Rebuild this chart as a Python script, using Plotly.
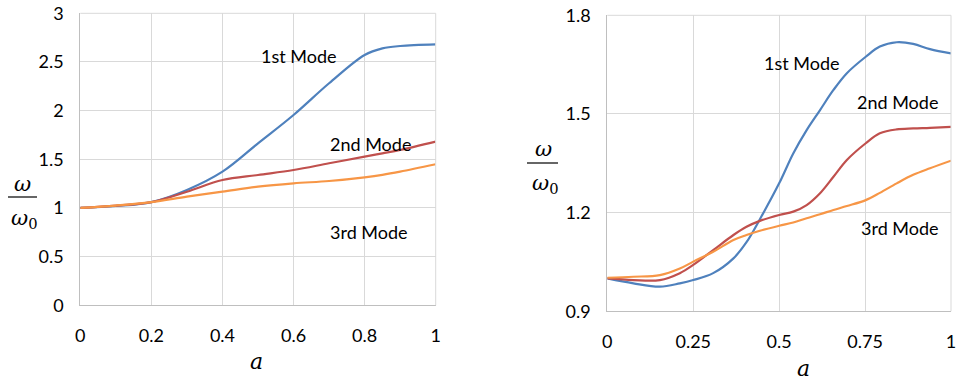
import plotly.graph_objects as go

# Left panel: frequency ratio vs a (range 0..1)
a_left = [0.0, 0.1, 0.2, 0.3, 0.4, 0.5, 0.6, 0.7, 0.8, 0.85, 0.9, 1.0]
left_mode1 = [1.00, 1.02, 1.06, 1.185, 1.373, 1.664, 1.955, 2.281, 2.572, 2.64, 2.664, 2.68]
left_mode2 = [1.00, 1.025, 1.06, 1.167, 1.287, 1.339, 1.39, 1.459, 1.527, 1.561, 1.596, 1.681]
left_mode3 = [1.00, 1.025, 1.06, 1.116, 1.167, 1.219, 1.253, 1.277, 1.315, 1.34, 1.373, 1.449]

# Right panel
a_right = [0.0, 0.076, 0.153, 0.211, 0.25, 0.308, 0.367, 0.405, 0.444, 0.5, 0.541,
           0.58, 0.619, 0.658, 0.697, 0.752, 0.793, 0.842, 0.89, 0.939, 1.0]
right_mode1 = [1.000, 0.985, 0.975, 0.985, 0.995, 1.016, 1.061, 1.110, 1.180, 1.289, 1.380,
               1.451, 1.512, 1.573, 1.624, 1.674, 1.705, 1.718, 1.713, 1.697, 1.684]
right_mode2 = [1.000, 0.995, 0.995, 1.016, 1.041, 1.086, 1.132, 1.157, 1.175, 1.193, 1.203,
               1.223, 1.259, 1.309, 1.360, 1.411, 1.441, 1.453, 1.456, 1.458, 1.461]
right_mode3 = [1.002, 1.005, 1.010, 1.030, 1.051, 1.081, 1.117, 1.132, 1.145, 1.160, 1.170,
               1.183, 1.195, 1.208, 1.220, 1.238, 1.260, 1.289, 1.315, 1.335, 1.358]

left_xticks = [0, 0.2, 0.4, 0.6, 0.8, 1]
left_yticks = [0, 0.5, 1, 1.5, 2, 2.5, 3]
right_xticks = [0, 0.25, 0.5, 0.75, 1]
right_yticks = [0.9, 1.2, 1.5, 1.8]

mode_names = ["1st Mode", "2nd Mode", "3rd Mode"]
colors = ["#4F81BD", "#C0504D", "#F79646"]

W, H = 957, 381
FONT = "Lato"
GRID = "#D9D9D9"
AXLINE = "#BFBFBF"

fig = go.Figure()

for ys, c, n in zip([left_mode1, left_mode2, left_mode3], colors, mode_names):
    fig.add_trace(go.Scatter(x=a_left, y=ys, mode="lines", name=n,
                             line=dict(color=c, width=2.2, shape="spline", smoothing=1),
                             xaxis="x", yaxis="y", showlegend=False))
for ys, c, n in zip([right_mode1, right_mode2, right_mode3], colors, mode_names):
    fig.add_trace(go.Scatter(x=a_right, y=ys, mode="lines", name=n,
                             line=dict(color=c, width=2.2, shape="spline", smoothing=1),
                             xaxis="x2", yaxis="y2", showlegend=False))

def axis(domain, rng, ticks, anchor, texts=None):
    return dict(domain=domain, range=rng, tickvals=ticks,
                ticktext=texts if texts else [f"{t:g}" for t in ticks],
                showgrid=True, gridcolor=GRID, gridwidth=1,
                showline=True, linecolor=AXLINE, linewidth=1, mirror=False,
                zeroline=False, ticks="", anchor=anchor, fixedrange=True,
                automargin=False,
                tickfont=dict(family=FONT, size=18, color="#000"))

px = lambda v: v / W
py = lambda v: 1 - v / H

fig.update_layout(
    width=W, height=H,
    margin=dict(l=0, r=0, t=0, b=0),
    paper_bgcolor="white", plot_bgcolor="white",
    xaxis=axis([px(80.3), px(435.7)], [0, 1], left_xticks, "y"),
    yaxis=axis([py(305.3), py(13.3)], [0, 3], left_yticks, "x"),
    xaxis2=axis([px(607.3), px(951)], [0, 1], right_xticks, "y2"),
    yaxis2=axis([py(311.3), py(15.3)], [0.9, 1.8], right_yticks, "x2",
                texts=["0.9", "1.2", "1.5", "1.8"]),
)
fig.update_xaxes(ticklabelstandoff=14)
fig.update_yaxes(ticklabelstandoff=12)

# Border gridlines along the top and right edges
shapes = []
for (x0, x1, y0, y1) in [(px(80.3), px(435.7), py(305.3), py(13.3)),
                         (px(607.3), px(951), py(311.3), py(15.3))]:
    shapes.append(dict(type="line", xref="paper", yref="paper", x0=x1, x1=x1, y0=y0, y1=y1,
                       line=dict(color=GRID, width=1)))
    shapes.append(dict(type="line", xref="paper", yref="paper", x0=x0, x1=x1, y0=y1, y1=y1,
                       line=dict(color=GRID, width=1)))

# Fraction bars for the ω/ω0 axis titles
shapes.append(dict(type="line", xref="paper", yref="paper", x0=px(8), x1=px(37),
                   y0=py(197), y1=py(197), line=dict(color="#000", width=1.2)))
shapes.append(dict(type="line", xref="paper", yref="paper", x0=px(527), x1=px(558),
                   y0=py(163), y1=py(163), line=dict(color="#000", width=1.2)))

MATH = "DejaVu Serif"
ann = []
def text(x, y, s, size=18, family=FONT, italic=False):
    ann.append(dict(xref="paper", yref="paper", x=px(x), y=py(y), text=s, showarrow=False,
                    xanchor="center", yanchor="middle",
                    font=dict(family=family, size=size, color="#000",
                              style="italic" if italic else "normal")))

OMEGA0 = 'ω<sub><span style="font-style:normal">0</span></sub>'

# Axis titles
text(22, 184, "ω", size=21, family=MATH, italic=True)
text(24, 219, OMEGA0, size=21, family=MATH, italic=True)
text(543, 149, "ω", size=21, family=MATH, italic=True)
text(545, 184, OMEGA0, size=21, family=MATH, italic=True)
text(256, 361, "a", size=22, family=MATH, italic=True)
text(803, 368, "a", size=22, family=MATH, italic=True)

# Curve labels
text(299, 56, "1st Mode")
text(370, 144, "2nd Mode")
text(369, 232, "3rd Mode")
text(802, 63, "1st Mode")
text(897, 102, "2nd Mode")
text(900, 228, "3rd Mode")

fig.update_layout(shapes=shapes, annotations=ann)

fig.write_html("out.html")
